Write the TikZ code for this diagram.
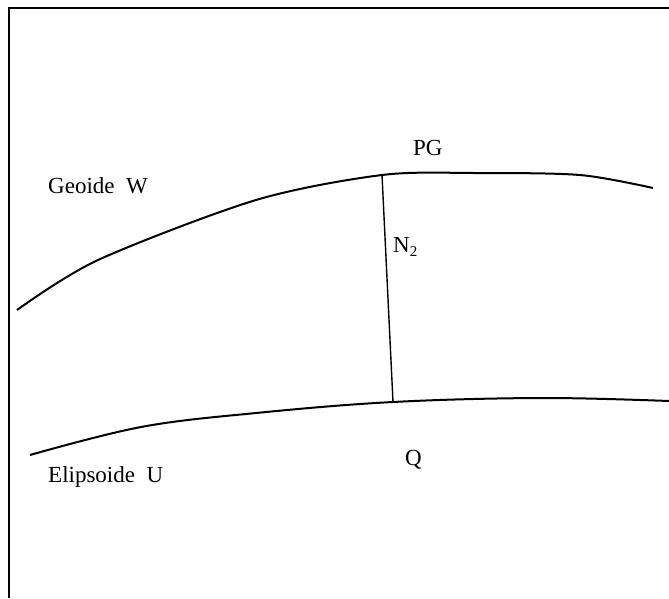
\documentclass[tikz,border=0pt]{standalone}
\usepackage{fontspec}
\setmainfont{Liberation Serif}
\begin{document}
\begin{tikzpicture}[x=1pt,y=-1pt,
  curveline/.style={line width=2pt, line join=round},
  frameline/.style={line width=2pt},
  normalline/.style={line width=1.4pt},
  lbl/.style={inner sep=0pt, anchor=base west, font=\fontsize{23}{27}\selectfont}]
\useasboundingbox (0,0) rectangle (669,598);
\fill[white] (0,0) rectangle (669,598);
% frame (only top and left edges are visible)
\draw[frameline] (9,598) -- (9,8) -- (669,8);
% geoid
\draw[curveline] plot[smooth, tension=0.5] coordinates
  {(17,310) (98,260) (256,200) (382,175) (475,173) (580,175) (653,188)};
% ellipsoid
\draw[curveline] plot[smooth, tension=0.6] coordinates
  {(30,455) (141,427) (256,413) (393,402) (542,398) (669,401)};
% points on the surfaces
\coordinate (PGpt) at (382,175);
\coordinate (Qpt) at (393,402);
\draw[normalline] (PGpt) -- (Qpt);
% labels
\node[lbl] (geo) at (48,193) {Geoide\ \ W};
\node[lbl] (eli) at (48,482) {Elipsoide\ \ U};
\node[lbl] (pg) at (413,155) {PG};
\node[lbl] (q) at (405,465) {Q};
\node[lbl] (n2) at (393,252) {N\raisebox{-4pt}{\fontsize{15}{18}\selectfont 2}};
\end{tikzpicture}
\end{document}
